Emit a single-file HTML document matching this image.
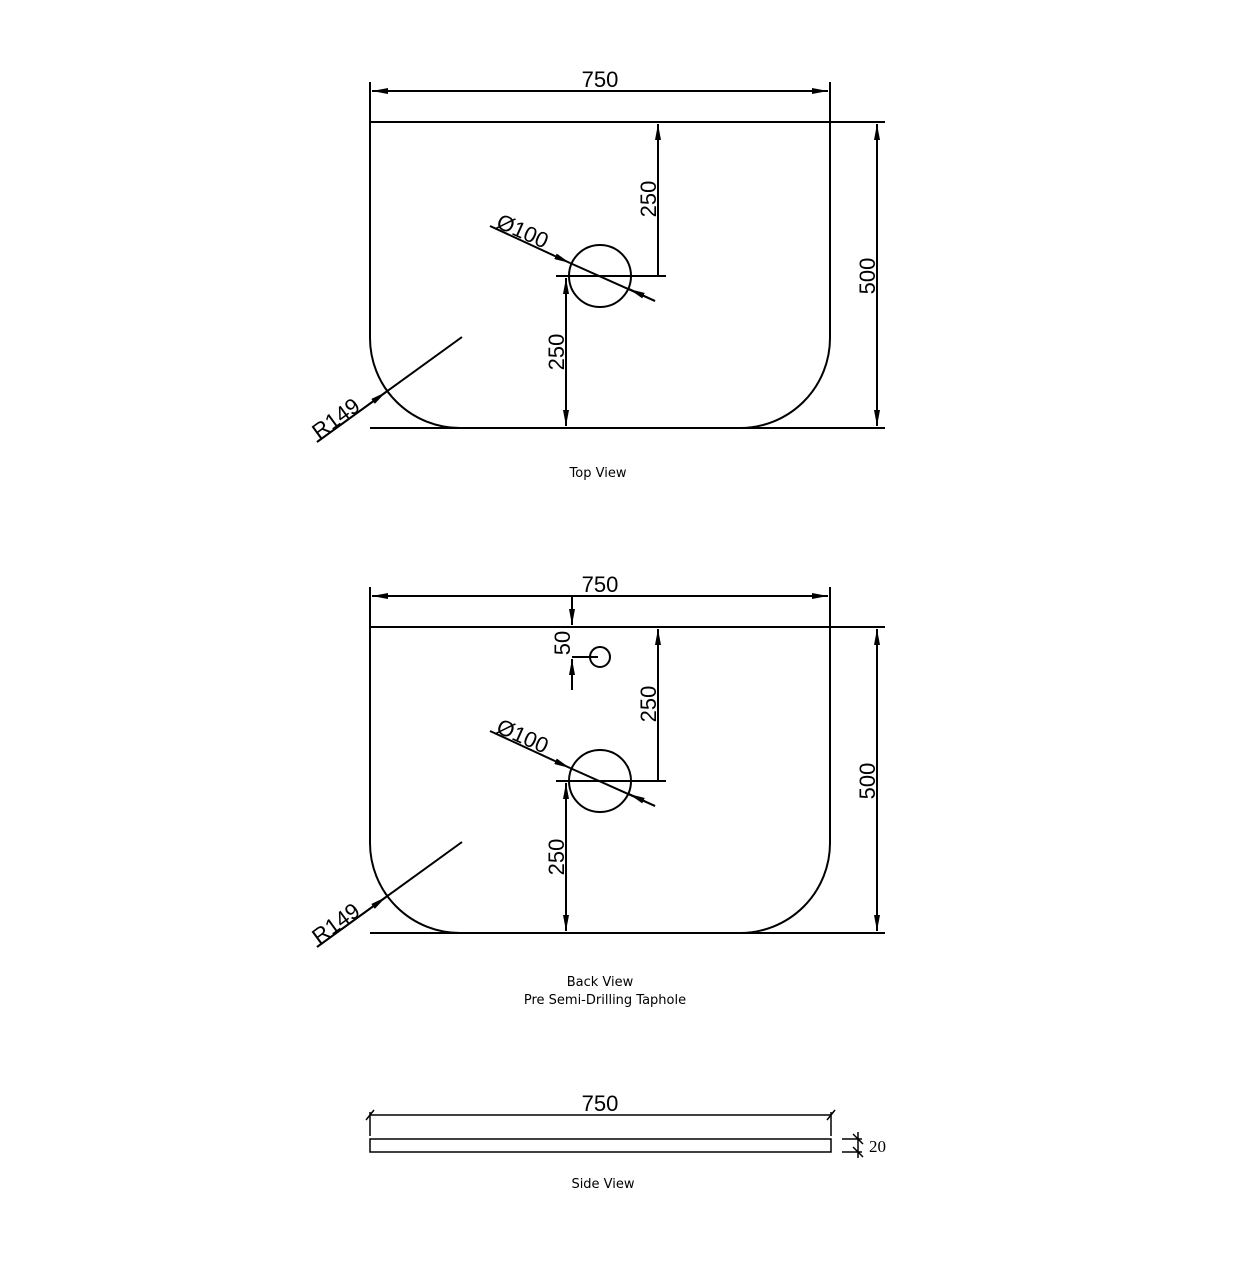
<!DOCTYPE html>
<html><head><style>body{margin:0;background:#fff}svg{display:block}</style></head><body>
<svg width="1240" height="1271" viewBox="0 0 1240 1271" xmlns="http://www.w3.org/2000/svg">
<defs>
<marker id="a" viewBox="0 0 16 6" refX="16" refY="3" markerWidth="16" markerHeight="6" orient="auto" markerUnits="userSpaceOnUse"><path d="M0,0 L16,3 L0,6 Z" fill="#000"/></marker>
<g id="view" fill="none" stroke="#000" stroke-width="2">
<path d="M370,122 L885,122" />
<path d="M370,122 L830,122 L830,338 A90,90 0 0 1 740,428 L460,428 A90,90 0 0 1 370,338 Z" />
<path d="M370,428 L885,428" />
<circle cx="600" cy="276" r="31"/>
<line x1="556" y1="276" x2="666" y2="276"/>
<line x1="658" y1="276" x2="658" y2="124" marker-end="url(#a)"/>
<line x1="566" y1="352" x2="566" y2="278" marker-end="url(#a)"/>
<line x1="566" y1="352" x2="566" y2="426" marker-end="url(#a)"/>
<line x1="877" y1="275" x2="877" y2="124" marker-end="url(#a)"/>
<line x1="877" y1="275" x2="877" y2="426" marker-end="url(#a)"/>
<line x1="490" y1="226" x2="570" y2="263" marker-end="url(#a)"/>
<line x1="570" y1="263" x2="655" y2="301"/>
<line x1="655" y1="301" x2="629" y2="289" marker-end="url(#a)"/>
<line x1="462" y1="337" x2="317" y2="442"/>
<line x1="317" y1="442" x2="386" y2="392" marker-end="url(#a)"/>
</g>
</defs>
<g fill="none" stroke="#000" stroke-width="2">
<line x1="370" y1="82" x2="370" y2="122"/><line x1="830" y1="82" x2="830" y2="122"/>
<line x1="600" y1="91" x2="372" y2="91" marker-end="url(#a)"/><line x1="600" y1="91" x2="828" y2="91" marker-end="url(#a)"/>
<line x1="370" y1="587" x2="370" y2="627"/><line x1="830" y1="587" x2="830" y2="627"/>
<line x1="600" y1="596" x2="372" y2="596" marker-end="url(#a)"/><line x1="600" y1="596" x2="828" y2="596" marker-end="url(#a)"/>
<line x1="572" y1="595" x2="572" y2="625" marker-end="url(#a)"/>
<line x1="572" y1="690" x2="572" y2="659" marker-end="url(#a)"/>
<line x1="572" y1="657" x2="598" y2="657"/>
<circle cx="600" cy="657" r="10"/>
</g>
<use href="#view"/>
<use href="#view" y="505"/>
<g font-family="Liberation Sans, sans-serif" font-size="22" fill="#000">
<text x="600" y="87" text-anchor="middle">750</text>
<text x="600" y="592" text-anchor="middle">750</text>
<text x="600" y="1111" text-anchor="middle">750</text>
<text transform="translate(656,199) rotate(-90)" text-anchor="middle">250</text>
<text transform="translate(564,352) rotate(-90)" text-anchor="middle">250</text>
<text transform="translate(875,276) rotate(-90)" text-anchor="middle">500</text>
<text transform="translate(656,704) rotate(-90)" text-anchor="middle">250</text>
<text transform="translate(564,857) rotate(-90)" text-anchor="middle">250</text>
<text transform="translate(875,781) rotate(-90)" text-anchor="middle">500</text>
<text transform="translate(570,643) rotate(-90)" text-anchor="middle">50</text>
<text transform="translate(495,227) rotate(24)">Ø100</text>
<text transform="translate(495,732) rotate(24)">Ø100</text>
<text transform="translate(319,440) rotate(-36)">R149</text>
<text transform="translate(319,945) rotate(-36)">R149</text>
</g>
<g font-family="DejaVu Sans, sans-serif" font-size="13" fill="#000" text-anchor="middle">
<text x="598" y="477">Top View</text>
<text x="600" y="986">Back View</text>
<text x="605" y="1004">Pre Semi-Drilling Taphole</text>
<text x="603" y="1188">Side View</text>
</g>
<g fill="none" stroke="#000" stroke-width="1.5">
<rect x="370" y="1139" width="461" height="13"/>
<line x1="370" y1="1115" x2="831" y2="1115"/>
<line x1="370" y1="1112" x2="370" y2="1136"/><line x1="831" y1="1112" x2="831" y2="1136"/>
<line x1="366" y1="1120" x2="374" y2="1110"/><line x1="827" y1="1120" x2="835" y2="1110"/>
<line x1="842" y1="1139" x2="862" y2="1139"/><line x1="842" y1="1152" x2="862" y2="1152"/>
<line x1="858" y1="1132" x2="858" y2="1158"/>
<line x1="853" y1="1134" x2="863" y2="1144"/><line x1="853" y1="1147" x2="863" y2="1157"/>
</g>
<text x="869" y="1152" font-family="Liberation Serif, serif" font-size="17">20</text>
</svg>
</body></html>
